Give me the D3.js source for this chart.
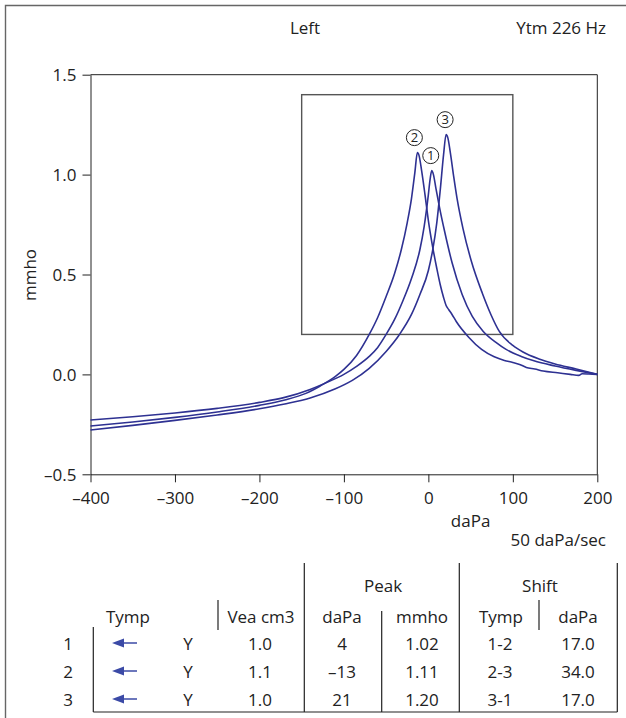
<!DOCTYPE html>
<html lang="en">
<head>
  <meta charset="UTF-8">
  <title>Tympanogram</title>
  <script src="https://cdn.jsdelivr.net/npm/d3@7/dist/d3.min.js"></script>
  <style>
    body { margin: 0; background: #fff; }
    svg text { font-family: "Open Sans", "Noto Sans", sans-serif; fill: #222; }
  </style>
</head>
<body>
  <div id="box"></div>
  <script>
    // curves: [pressure daPa, admittance mmho]
    const tymp1 = [[-400,-0.228],[-350,-0.212],[-300,-0.193],[-250,-0.170],[-200,-0.140],[-170,-0.115],[-140,-0.075],[-120,-0.040],[-100,0.000],[-85,0.040],[-70,0.090],[-60,0.135],[-50,0.200],[-40,0.275],[-30,0.370],[-20,0.480],[-10,0.625],[-5,0.740],[0,0.900],[2,0.975],[4,1.020],[6,1.000],[9,0.930],[13,0.840],[19,0.720],[28,0.560],[40,0.400],[52,0.290],[65,0.215],[80,0.160],[92,0.125],[110,0.090],[125,0.068],[150,0.042],[175,0.020],[200,0.000]]
    const tymp2 = [[-400,-0.258],[-350,-0.238],[-300,-0.215],[-250,-0.188],[-200,-0.155],[-170,-0.128],[-145,-0.095],[-128,-0.058],[-110,-0.010],[-100,0.025],[-85,0.095],[-70,0.200],[-60,0.285],[-50,0.390],[-40,0.505],[-32,0.625],[-25,0.760],[-20,0.880],[-16,1.010],[-13,1.110],[-11,1.095],[-8,1.020],[-4,0.900],[0,0.770],[5,0.640],[10,0.530],[14,0.450],[18,0.385],[21,0.345],[24,0.325],[28,0.300],[33,0.265],[48,0.185],[63,0.125],[78,0.088],[90,0.070],[100,0.060],[108,0.050],[116,0.035],[126,0.027],[136,0.017],[153,0.008],[168,0.000],[178,-0.005],[182,0.003],[190,0.002],[200,0.000]]
    const tymp3 = [[-400,-0.278],[-350,-0.255],[-300,-0.230],[-250,-0.203],[-200,-0.172],[-170,-0.148],[-140,-0.118],[-110,-0.072],[-90,-0.030],[-70,0.030],[-50,0.115],[-35,0.195],[-20,0.300],[-10,0.400],[0,0.520],[5,0.620],[10,0.760],[14,0.920],[18,1.100],[21,1.200],[23,1.185],[26,1.110],[30,0.990],[34,0.880],[41,0.730],[51,0.565],[64,0.405],[74,0.300],[84,0.215],[100,0.145],[112,0.112],[131,0.077],[150,0.052],[175,0.027],[200,0.000]]
    const curves = [tymp1, tymp2, tymp3]
    const curveIds = ['1', '2', '3']

    const xTicks = [-400, -300, -200, -100, 0, 100, 200]
    const xTickLabels = ['–400', '–300', '–200', '–100', '0', '100', '200']
    const yTicks = [-0.5, 0, 0.5, 1.0, 1.5]
    const yTickLabels = ['–0.5', '0.0', '0.5', '1.0', '1.5']
    const zoomBox = { x: [-150, 100], y: [0.2, 1.4] }

    // table
    const rowIds = ['1', '2', '3']
    const veaVals = ['1.0', '1.1', '1.0']
    const peakDaPa = ['4', '–13', '21']
    const peakMmho = ['1.02', '1.11', '1.20']
    const shiftPairs = ['1-2', '2-3', '3-1']
    const shiftDaPa = ['17.0', '34.0', '17.0']

    const width = 626
    const height = 718
    const blue = '#2e3192'
    const fs = 17

    const svg = d3.select('#box').append('svg')
      .attr('width', width)
      .attr('height', height)

    // outer frame (top + left)
    svg.append('path')
      .attr('d', `M5.5,${height} V5.5 H${width}`)
      .attr('fill', 'none').attr('stroke', '#666').attr('stroke-width', 1.4)

    const xScale = d3.scaleLinear().domain([-400, 200]).range([90.5, 597.3])
    const yScale = d3.scaleLinear().domain([-0.5, 1.5]).range([474.3, 74.7])

    const xAxis = d3.axisBottom(xScale).tickValues(xTicks)
      .tickFormat((d, i) => xTickLabels[i]).tickSize(8).tickSizeOuter(0).tickPadding(10)
    const yAxis = d3.axisLeft(yScale).tickValues(yTicks)
      .tickFormat((d, i) => yTickLabels[i]).tickSize(8).tickSizeOuter(0).tickPadding(6)

    svg.append('g')
      .attr('transform', `translate(0,${yScale(-0.5)})`)
      .call(xAxis)
      .attr('font-size', fs)
      .call(g => g.selectAll('path,line').attr('stroke', '#222'))
    svg.append('g')
      .attr('transform', `translate(${xScale(-400)},0)`)
      .call(yAxis)
      .attr('font-size', fs)
      .call(g => g.selectAll('path,line').attr('stroke', '#222'))
      .call(g => g.selectAll('text').attr('dy', '0.36em'))

    // top and right frame
    svg.append('path')
      .attr('d', `M${xScale(-400)},${yScale(1.5)} H${xScale(200)} V${yScale(-0.5)}`)
      .attr('fill', 'none').attr('stroke', '#222').attr('stroke-width', 1)

    // zoom box
    svg.append('rect')
      .attr('x', xScale(zoomBox.x[0]))
      .attr('y', yScale(zoomBox.y[1]))
      .attr('width', xScale(zoomBox.x[1]) - xScale(zoomBox.x[0]))
      .attr('height', yScale(zoomBox.y[0]) - yScale(zoomBox.y[1]))
      .attr('fill', 'none').attr('stroke', '#555').attr('stroke-width', 1.4)

    const line = d3.line()
      .x(d => xScale(d[0]))
      .y(d => yScale(d[1]))
      .curve(d3.curveMonotoneX)

    svg.append('g').selectAll('path')
      .data(curves)
      .join('path')
      .attr('d', line)
      .attr('fill', 'none')
      .attr('stroke', blue)
      .attr('stroke-width', 1.6)

    // circled numbers above each peak
    const labelDx = [-1, -3, -1]
    const peaks = curves.map(c => c.reduce((a, b) => (b[1] > a[1] ? b : a)))
    const marks = svg.append('g').selectAll('g')
      .data(peaks)
      .join('g')
      .attr('transform', (d, i) => `translate(${xScale(d[0]) + labelDx[i]},${yScale(d[1]) - 15})`)
    marks.append('circle').attr('r', 8).attr('fill', '#fff').attr('stroke', '#222').attr('stroke-width', 1)
    marks.append('text')
      .attr('text-anchor', 'middle').attr('dy', '0.37em').attr('font-size', 13)
      .text((d, i) => curveIds[i])

    // titles
    svg.append('text').attr('x', 305).attr('y', 34).attr('text-anchor', 'middle').attr('font-size', fs).text('Left')
    svg.append('text').attr('x', 606).attr('y', 34).attr('text-anchor', 'end').attr('font-size', fs).text('Ytm 226 Hz')
    svg.append('text').attr('transform', 'translate(36,275) rotate(-90)').attr('text-anchor', 'middle').attr('font-size', fs).text('mmho')
    svg.append('text').attr('x', xScale(50)).attr('y', 527).attr('text-anchor', 'middle').attr('font-size', fs).text('daPa')
    svg.append('text').attr('x', 606).attr('y', 546).attr('text-anchor', 'end').attr('font-size', fs).text('50 daPa/sec')

    // table
    const tbl = svg.append('g').attr('font-size', fs)
    const rules = [
      [93.3, 627, 712], [218, 600, 630], [304.3, 563, 712], [381.7, 611, 712],
      [459.3, 563, 712], [539, 600, 630], [617.3, 563, 712]
    ]
    tbl.selectAll('line.v').data(rules).join('line')
      .attr('x1', d => d[0]).attr('x2', d => d[0])
      .attr('y1', d => d[1]).attr('y2', d => d[2])
      .attr('stroke', '#222').attr('stroke-width', 1.2)
    tbl.append('line').attr('x1', 93.3).attr('x2', 617.3).attr('y1', 712).attr('y2', 712)
      .attr('stroke', '#222').attr('stroke-width', 1.2)

    const head = [['Peak', 383, 592], ['Shift', 540, 592],
      ['Tymp', 128, 623], ['Vea cm3', 261, 623], ['daPa', 342, 623],
      ['mmho', 422, 623], ['Tymp', 501, 623], ['daPa', 578, 623]]
    tbl.selectAll('text.h').data(head).join('text')
      .attr('x', d => d[1]).attr('y', d => d[2]).attr('text-anchor', 'middle').text(d => d[0])

    const rowY = i => 650 + i * 28
    const cols = [[rowIds, 68], [rowIds.map(() => 'Y'), 188], [veaVals, 260], [peakDaPa, 342],
      [peakMmho, 422], [shiftPairs, 500], [shiftDaPa, 578]]
    cols.forEach(([vals, cx]) => {
      tbl.append('g').selectAll('text').data(vals).join('text')
        .attr('x', cx).attr('y', (d, i) => rowY(i)).attr('text-anchor', 'middle').text(d => d)
    })
    // arrows
    const arrows = tbl.append('g').selectAll('g').data(rowIds).join('g')
      .attr('transform', (d, i) => `translate(112,${rowY(i) - 7})`)
    arrows.append('line').attr('x1', 6).attr('x2', 25).attr('stroke', '#3b4aa6').attr('stroke-width', 1.5)
    arrows.append('path').attr('d', 'M0,0 L12,-4.5 L12,4.5 Z').attr('fill', '#3b4aa6')
  </script>
</body>
</html>
